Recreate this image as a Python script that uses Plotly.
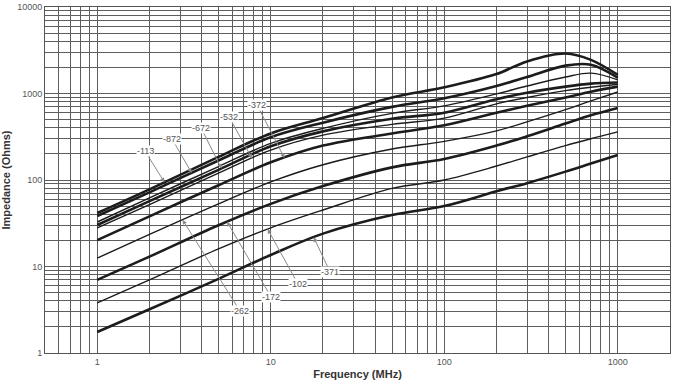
import numpy as np
import plotly.graph_objects as go

# ---------------- data ----------------
freq_mhz = [1, 2, 5, 10, 20, 50, 100, 200, 300, 500, 700, 1000]

z_113 = [41.5, 78, 185, 345, 520, 900, 1180, 1680, 2350, 2900, 2450, 1640]
z_872 = [38.4, 72, 168, 312, 460, 700, 880, 1220, 1550, 2100, 2150, 1520]
z_unl = [32.7, 62, 143, 265, 395, 590, 720, 990, 1220, 1550, 1720, 1440]
z_672 = [30.2, 57, 131, 245, 365, 510, 600, 860, 1020, 1200, 1300, 1340]
z_532 = [27.9, 52, 120, 222, 330, 440, 520, 760, 900, 1080, 1180, 1280]
z_372 = [20.2, 38, 87, 160, 250, 345, 430, 600, 720, 900, 1050, 1200]
z_262 = [12.5, 23.5, 53, 95, 150, 228, 280, 370, 470, 650, 820, 1040]
z_172 = [7.0, 13, 30, 53, 85, 140, 175, 250, 320, 450, 560, 680]
z_102 = [3.8, 7.0, 16, 28, 45, 80, 100, 145, 185, 250, 300, 360]
z_371 = [1.75, 3.2, 7.2, 13.6, 24, 39.4, 50, 74, 92, 125, 155, 195]

series_names = ["-113", "-872", "", "-672", "-532", "-372", "-262", "-172", "-102", "-371"]
series_values = [z_113, z_872, z_unl, z_672, z_532, z_372, z_262, z_172, z_102, z_371]
series_thick = [True, True, False, True, False, True, False, True, False, True]

x_tick_labels = ["1", "10", "100", "1000"]
y_tick_labels = ["1", "10", "100", "1000", "10000"]

# label anchor (frequency, impedance) and the frequency the arrow points at
label_pos = {
    "-113": (1.886, 216, 2.44),
    "-872": (2.70, 298, 3.5),
    "-672": (3.97, 399, 5.2),
    "-532": (5.75, 535, 7.8),
    "-372": (8.34, 736, 12.0),
    "-262": (6.65, 3.06, 3.1),
    "-172": (10.05, 4.44, 5.6),
    "-102": (14.35, 6.28, 9.6),
    "-371": (21.98, 8.63, 17.7),
}

FONT = "Arial, Liberation Sans, Helvetica, sans-serif"

# ---------------- figure ----------------
fig = go.Figure()
for name, vals, thick in zip(series_names, series_values, series_thick):
    fig.add_trace(go.Scatter(
        x=freq_mhz, y=vals, mode="lines",
        line=dict(color="#1c1c1c", width=2.6 if thick else 1.4, shape="spline", smoothing=1.0),
        name=name or "curve", showlegend=False, hoverinfo="skip"))

lf = np.log10(freq_mhz)
for name, vals in zip(series_names, series_values):
    if name not in label_pos:
        continue
    fx, fy, fhead = label_pos[name]
    hy = np.interp(np.log10(fhead), lf, np.log10(vals))
    fig.add_annotation(
        x=np.log10(fhead), y=hy, xref="x", yref="y",
        ax=np.log10(fx), ay=np.log10(fy), axref="x", ayref="y",
        text=name, showarrow=True, arrowhead=2, arrowsize=0.9, arrowwidth=1,
        arrowcolor="#8a8a8a", bgcolor="white", borderpad=0,
        font=dict(size=9, color="#555555", family=FONT))

xt = [m * 10 ** d for d in range(-1, 3) for m in range(1, 10) if m * 10 ** d >= 0.6] + [1000]
xtt = [str(int(round(v))) if (v >= 1 and str(int(round(v))) in x_tick_labels) else "" for v in xt]
yt = [m * 10 ** d for d in range(0, 4) for m in range(1, 10)] + [10000]
ytt = [str(int(v)) if str(int(v)) in y_tick_labels else "" for v in yt]

grid = "#5e5e5e"
fig.update_xaxes(type="log", range=[np.log10(0.5), np.log10(2000)], automargin=False,
                 tickvals=xt, ticktext=xtt, showgrid=True, gridcolor=grid, gridwidth=1,
                 showline=True, mirror=True, linecolor="#555", linewidth=1, ticks="",
                 tickfont=dict(size=9, color="#555", family=FONT),
                 title=dict(text="<b>Frequency (MHz)</b>", standoff=4,
                            font=dict(size=11, color="#333", family=FONT)),
                 zeroline=False)
fig.update_yaxes(type="log", range=[0, 4], automargin=False,
                 tickvals=yt, ticktext=ytt, showgrid=True, gridcolor=grid, gridwidth=1,
                 showline=True, mirror=True, linecolor="#555", linewidth=1, ticks="",
                 tickfont=dict(size=9, color="#555", family=FONT),
                 title=dict(text="<b>Impedance (Ohms)</b>", standoff=4,
                            font=dict(size=11, color="#333", family=FONT)),
                 zeroline=False)
fig.update_layout(width=675, height=384, margin=dict(l=45, r=5, t=7, b=31, autoexpand=False),
                  paper_bgcolor="white", plot_bgcolor="white")
fig.write_html("out.html", config={"displayModeBar": False},
               post_script="document.body.style.margin='0px';document.body.style.padding='0px';")
